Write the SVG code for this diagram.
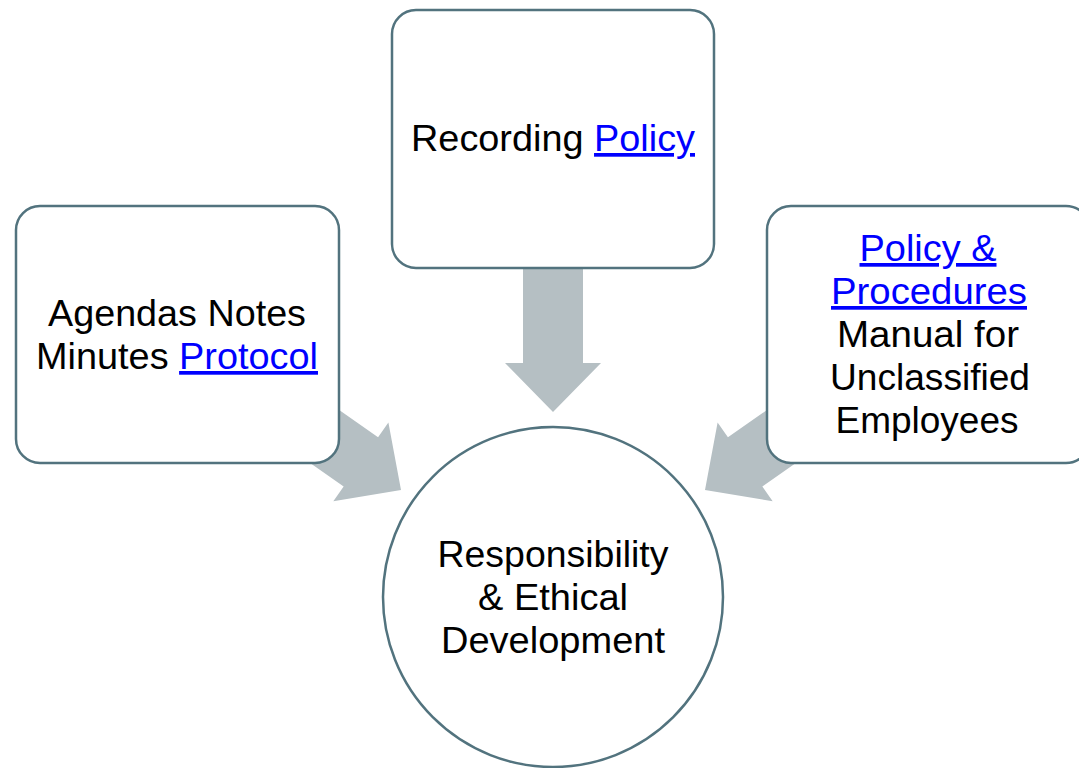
<svg xmlns="http://www.w3.org/2000/svg" width="1079" height="768" viewBox="0 0 1079 768">
<style>
.box{fill:#ffffff;stroke:#52737e;stroke-width:2.5}
.arrow{fill:#b5bfc3;stroke:none}
.t{font-family:"Liberation Sans",Arial,sans-serif;font-size:37px;fill:#000000;text-anchor:middle}
.link{fill:#0000ff;text-decoration:underline}
</style>
<defs>
<polygon id="arr" points="-130,-30 -49,-30 -49,-48 0,0 -49,48 -49,30 -130,30"/>
</defs>
<rect width="1079" height="768" fill="#ffffff"/>
<g id="connectors">
<polygon class="arrow" points="523,268 583,268 583,363 601,363 553,412 505,363 523,363"/>
<use href="#arr" class="arrow" transform="translate(401,490) rotate(35)"/>
<use href="#arr" class="arrow" transform="translate(705,490) rotate(145)"/>
</g>
<g id="node-recording">
<rect class="box" x="392" y="10" width="322" height="258" rx="24"/>
<text class="t" x="553" y="151" textLength="284" lengthAdjust="spacingAndGlyphs">Recording <tspan class="link">Policy</tspan></text>
</g>
<g id="node-agendas">
<rect class="box" x="16" y="206" width="323" height="257" rx="24"/>
<text class="t" x="177" y="326" textLength="258" lengthAdjust="spacingAndGlyphs">Agendas Notes</text>
<text class="t" x="177" y="369" textLength="282" lengthAdjust="spacingAndGlyphs">Minutes <tspan class="link">Protocol</tspan></text>
</g>
<g id="node-policy">
<rect class="box" x="767" y="206" width="323" height="257" rx="24"/>
<text class="t" x="928" y="261" textLength="137" lengthAdjust="spacingAndGlyphs"><tspan class="link">Policy &amp;</tspan></text>
<text class="t" x="929" y="304" textLength="196" lengthAdjust="spacingAndGlyphs"><tspan class="link">Procedures</tspan></text>
<text class="t" x="928" y="347" textLength="182" lengthAdjust="spacingAndGlyphs">Manual for</text>
<text class="t" x="930" y="390" textLength="200" lengthAdjust="spacingAndGlyphs">Unclassified</text>
<text class="t" x="927" y="433" textLength="183" lengthAdjust="spacingAndGlyphs">Employees</text>
</g>
<g id="node-center">
<circle class="box" cx="553" cy="597" r="170"/>
<text class="t" x="553" y="567" textLength="231" lengthAdjust="spacingAndGlyphs">Responsibility</text>
<text class="t" x="553" y="610" textLength="150" lengthAdjust="spacingAndGlyphs">&amp; Ethical</text>
<text class="t" x="553" y="653" textLength="224" lengthAdjust="spacingAndGlyphs">Development</text>
</g>
</svg>
